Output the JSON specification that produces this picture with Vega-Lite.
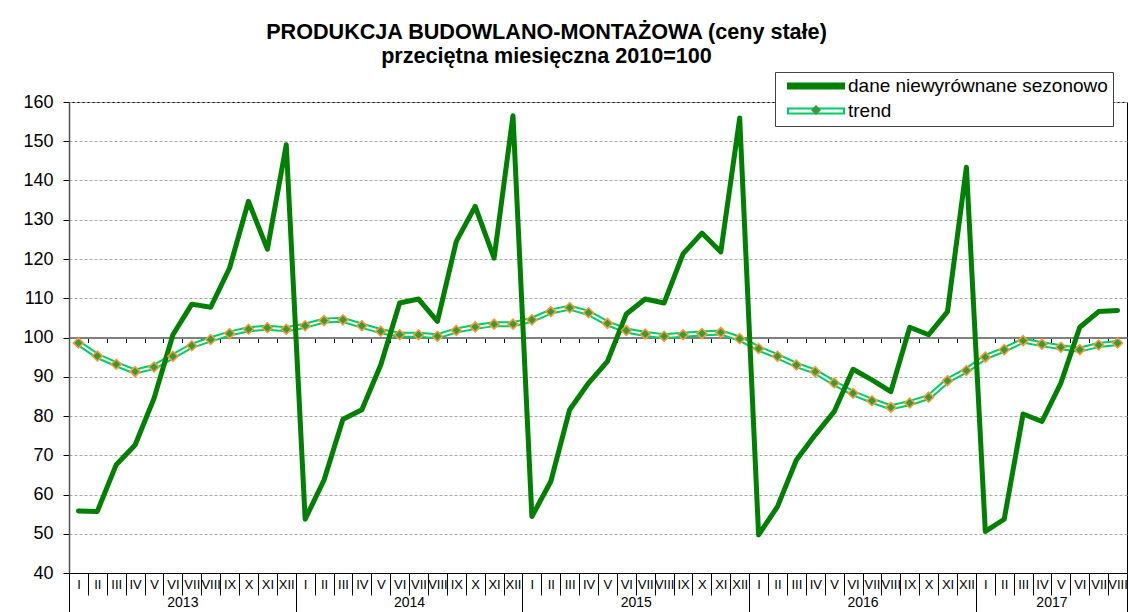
{
  "$schema": "https://vega.github.io/schema/vega-lite/v6.json",
  "width": 1058,
  "height": 471,
  "autosize": {"type": "none"},
  "padding": {"left": 69, "top": 102, "right": 3, "bottom": 39},
  "background": "#ffffff",
  "title": {
    "text": ["PRODUKCJA BUDOWLANO-MONTAŻOWA (ceny stałe)", "przeciętna miesięczna 2010=100"],
    "font": "Liberation Sans",
    "fontSize": 21.6,
    "fontWeight": "bold",
    "color": "#000000",
    "anchor": "middle",
    "dx": -51.5,
    "offset": 4,
    "lineHeight": 24
  },
  "data": {
    "values": [
      {"t": 0, "s": "dane", "v": 55.8}, {"t": 1, "s": "dane", "v": 55.7}, {"t": 2, "s": "dane", "v": 67.6}, {"t": 3, "s": "dane", "v": 72.6},
      {"t": 4, "s": "dane", "v": 84.5}, {"t": 5, "s": "dane", "v": 100.7}, {"t": 6, "s": "dane", "v": 108.5}, {"t": 7, "s": "dane", "v": 107.7},
      {"t": 8, "s": "dane", "v": 117.7}, {"t": 9, "s": "dane", "v": 134.7}, {"t": 10, "s": "dane", "v": 122.5}, {"t": 11, "s": "dane", "v": 149.1},
      {"t": 12, "s": "dane", "v": 53.7}, {"t": 13, "s": "dane", "v": 63.7}, {"t": 14, "s": "dane", "v": 79.2}, {"t": 15, "s": "dane", "v": 81.6},
      {"t": 16, "s": "dane", "v": 93.0}, {"t": 17, "s": "dane", "v": 108.8}, {"t": 18, "s": "dane", "v": 109.8}, {"t": 19, "s": "dane", "v": 104.1},
      {"t": 20, "s": "dane", "v": 124.5}, {"t": 21, "s": "dane", "v": 133.4}, {"t": 22, "s": "dane", "v": 120.2}, {"t": 23, "s": "dane", "v": 156.5},
      {"t": 24, "s": "dane", "v": 54.4}, {"t": 25, "s": "dane", "v": 63.3}, {"t": 26, "s": "dane", "v": 81.6}, {"t": 27, "s": "dane", "v": 88.4},
      {"t": 28, "s": "dane", "v": 93.9}, {"t": 29, "s": "dane", "v": 106.0}, {"t": 30, "s": "dane", "v": 109.8}, {"t": 31, "s": "dane", "v": 108.8},
      {"t": 32, "s": "dane", "v": 121.3}, {"t": 33, "s": "dane", "v": 126.6}, {"t": 34, "s": "dane", "v": 121.8}, {"t": 35, "s": "dane", "v": 155.9},
      {"t": 36, "s": "dane", "v": 49.7}, {"t": 37, "s": "dane", "v": 56.9}, {"t": 38, "s": "dane", "v": 68.8}, {"t": 39, "s": "dane", "v": 75.2},
      {"t": 40, "s": "dane", "v": 81.1}, {"t": 41, "s": "dane", "v": 91.9}, {"t": 42, "s": "dane", "v": 89.2}, {"t": 43, "s": "dane", "v": 86.2},
      {"t": 44, "s": "dane", "v": 102.6}, {"t": 45, "s": "dane", "v": 100.7}, {"t": 46, "s": "dane", "v": 106.6}, {"t": 47, "s": "dane", "v": 143.4},
      {"t": 48, "s": "dane", "v": 50.6}, {"t": 49, "s": "dane", "v": 53.7}, {"t": 50, "s": "dane", "v": 80.5}, {"t": 51, "s": "dane", "v": 78.6},
      {"t": 52, "s": "dane", "v": 88.4}, {"t": 53, "s": "dane", "v": 102.6}, {"t": 54, "s": "dane", "v": 106.6}, {"t": 55, "s": "dane", "v": 106.9},
      {"t": 0, "s": "trend", "v": 98.6}, {"t": 1, "s": "trend", "v": 95.3}, {"t": 2, "s": "trend", "v": 93.2}, {"t": 3, "s": "trend", "v": 91.3},
      {"t": 4, "s": "trend", "v": 92.5}, {"t": 5, "s": "trend", "v": 95.2}, {"t": 6, "s": "trend", "v": 97.9}, {"t": 7, "s": "trend", "v": 99.5},
      {"t": 8, "s": "trend", "v": 101.0}, {"t": 9, "s": "trend", "v": 102.1}, {"t": 10, "s": "trend", "v": 102.5}, {"t": 11, "s": "trend", "v": 102.1},
      {"t": 12, "s": "trend", "v": 103.0}, {"t": 13, "s": "trend", "v": 104.3}, {"t": 14, "s": "trend", "v": 104.5}, {"t": 15, "s": "trend", "v": 103.0},
      {"t": 16, "s": "trend", "v": 101.6}, {"t": 17, "s": "trend", "v": 100.7}, {"t": 18, "s": "trend", "v": 100.7}, {"t": 19, "s": "trend", "v": 100.3},
      {"t": 20, "s": "trend", "v": 101.8}, {"t": 21, "s": "trend", "v": 102.7}, {"t": 22, "s": "trend", "v": 103.4}, {"t": 23, "s": "trend", "v": 103.4},
      {"t": 24, "s": "trend", "v": 104.5}, {"t": 25, "s": "trend", "v": 106.6}, {"t": 26, "s": "trend", "v": 107.6}, {"t": 27, "s": "trend", "v": 106.3},
      {"t": 28, "s": "trend", "v": 103.6}, {"t": 29, "s": "trend", "v": 101.8}, {"t": 30, "s": "trend", "v": 100.9}, {"t": 31, "s": "trend", "v": 100.3},
      {"t": 32, "s": "trend", "v": 100.7}, {"t": 33, "s": "trend", "v": 101.0}, {"t": 34, "s": "trend", "v": 101.3}, {"t": 35, "s": "trend", "v": 99.7},
      {"t": 36, "s": "trend", "v": 97.2}, {"t": 37, "s": "trend", "v": 95.2}, {"t": 38, "s": "trend", "v": 93.0}, {"t": 39, "s": "trend", "v": 91.3},
      {"t": 40, "s": "trend", "v": 88.4}, {"t": 41, "s": "trend", "v": 85.8}, {"t": 42, "s": "trend", "v": 83.9}, {"t": 43, "s": "trend", "v": 82.2},
      {"t": 44, "s": "trend", "v": 83.3}, {"t": 45, "s": "trend", "v": 84.8}, {"t": 46, "s": "trend", "v": 89.0}, {"t": 47, "s": "trend", "v": 91.6},
      {"t": 48, "s": "trend", "v": 95.0}, {"t": 49, "s": "trend", "v": 96.9}, {"t": 50, "s": "trend", "v": 99.2}, {"t": 51, "s": "trend", "v": 98.3},
      {"t": 52, "s": "trend", "v": 97.5}, {"t": 53, "s": "trend", "v": 96.9}, {"t": 54, "s": "trend", "v": 98.1}, {"t": 55, "s": "trend", "v": 98.6}
    ]
  },
  "encoding": {
    "y": {
      "field": "v",
      "type": "quantitative",
      "scale": {"domain": [40, 160], "nice": false, "zero": false},
      "axis": {
        "title": null,
        "values": [40, 50, 60, 70, 80, 90, 100, 110, 120, 130, 140, 150, 160],
        "grid": true,
        "gridColor": "#A8A8A8",
        "gridDash": [3, 2],
        "gridWidth": 1,
        "domain": true,
        "domainColor": "#505050",
        "domainWidth": 1.5,
        "ticks": true,
        "tickSize": 6,
        "tickColor": "#000000",
        "labelFont": "Liberation Sans",
        "labelFontSize": 18,
        "labelColor": "#000000",
        "labelPadding": 10
      }
    }
  },
  "layer": [
    {
      "transform": [{"filter": "datum.s == 'trend'"}],
      "mark": {"type": "line", "stroke": "#00CC66", "strokeWidth": 6, "strokeJoin": "round", "strokeCap": "round"},
      "encoding": {
        "x": {
          "field": "t",
          "type": "quantitative",
          "scale": {"domain": [-0.5, 55.5], "nice": false, "zero": false},
          "axis": {
            "orient": "bottom",
            "offset": -235.5,
            "title": null,
            "values": [-0.5, 0.5, 1.5, 2.5, 3.5, 4.5, 5.5, 6.5, 7.5, 8.5, 9.5, 10.5, 11.5, 12.5, 13.5, 14.5, 15.5, 16.5, 17.5, 18.5, 19.5, 20.5, 21.5, 22.5, 23.5, 24.5, 25.5, 26.5, 27.5, 28.5, 29.5, 30.5, 31.5, 32.5, 33.5, 34.5, 35.5, 36.5, 37.5, 38.5, 39.5, 40.5, 41.5, 42.5, 43.5, 44.5, 45.5, 46.5, 47.5, 48.5, 49.5, 50.5, 51.5, 52.5, 53.5, 54.5, 55.5],
            "labels": false,
            "grid": false,
            "domain": true,
            "domainColor": "#808080",
            "domainWidth": 2,
            "ticks": true,
            "tickSize": 5,
            "tickColor": "#000000",
            "tickWidth": 1
          }
        }
      }
    },
    {
      "transform": [{"filter": "datum.s == 'trend'"}],
      "mark": {"type": "line", "stroke": "#ffffff", "strokeWidth": 2, "strokeJoin": "round", "strokeCap": "round"},
      "encoding": {
        "x": {
          "field": "t",
          "type": "quantitative",
          "scale": {"domain": [-0.5, 55.5], "nice": false, "zero": false},
          "axis": {
            "orient": "bottom",
            "title": null,
            "values": [-0.5, 0.5, 1.5, 2.5, 3.5, 4.5, 5.5, 6.5, 7.5, 8.5, 9.5, 10.5, 11.5, 12.5, 13.5, 14.5, 15.5, 16.5, 17.5, 18.5, 19.5, 20.5, 21.5, 22.5, 23.5, 24.5, 25.5, 26.5, 27.5, 28.5, 29.5, 30.5, 31.5, 32.5, 33.5, 34.5, 35.5, 36.5, 37.5, 38.5, 39.5, 40.5, 41.5, 42.5, 43.5, 44.5, 45.5, 46.5, 47.5, 48.5, 49.5, 50.5, 51.5, 52.5, 53.5, 54.5, 55.5],
            "labels": false,
            "grid": false,
            "domain": true,
            "domainColor": "#000000",
            "domainWidth": 1,
            "ticks": true,
            "tickSize": {"condition": {"test": "datum.value == -0.5 || datum.value == 11.5 || datum.value == 23.5 || datum.value == 35.5 || datum.value == 47.5 || datum.value == 55.5", "value": 45}, "value": 22},
            "tickColor": "#000000",
            "tickWidth": 1
          }
        }
      }
    },
    {
      "transform": [{"filter": "datum.s == 'dane'"}],
      "mark": {"type": "line", "strokeWidth": 5, "strokeJoin": "round", "strokeCap": "round"},
      "encoding": {
        "x": {
          "field": "t",
          "type": "quantitative",
          "scale": {"domain": [-0.5, 55.5], "nice": false, "zero": false},
          "axis": {
            "orient": "bottom",
            "title": null,
            "values": [0, 1, 2, 3, 4, 5, 6, 7, 8, 9, 10, 11, 12, 13, 14, 15, 16, 17, 18, 19, 20, 21, 22, 23, 24, 25, 26, 27, 28, 29, 30, 31, 32, 33, 34, 35, 36, 37, 38, 39, 40, 41, 42, 43, 44, 45, 46, 47, 48, 49, 50, 51, 52, 53, 54, 55],
            "labelExpr": "['I','II','III','IV','V','VI','VII','VIII','IX','X','XI','XII'][datum.value % 12]",
            "ticks": false,
            "domain": false,
            "grid": false,
            "labelPadding": 5,
            "labelFont": "Liberation Sans",
            "labelFontSize": 13,
            "labelColor": "#000000",
            "labelOverlap": false,
            "labelBound": false,
            "labelFlush": false
          }
        },
        "color": {
          "field": "s",
          "type": "nominal",
          "scale": {"domain": ["dane", "trend"], "range": ["#008000", "#00CC66"]},
          "legend": {
            "orient": "none",
            "legendX": 706,
            "legendY": -30,
            "title": null,
            "padding": 5,
            "fillColor": "#ffffff",
            "strokeColor": "#404040",
            "rowPadding": 6,
            "clipHeight": 18,
            "labelFont": "Liberation Sans",
            "labelFontSize": 19,
            "labelColor": "#000000",
            "labelLimit": 400,
            "labelExpr": "datum.value == 'dane' ? 'dane niewyrównane sezonowo' : 'trend'",
            "symbolType": "M-1,-0.09H1V0.09H-1Z",
            "symbolSize": 3136,
            "symbolStrokeWidth": 2,
            "symbolOffset": 7,
            "labelOffset": 3,
            "zindex": 1,
            "encode": {
              "symbols": {
                "update": {
                  "fill": {"signal": "datum.value == 'trend' ? '#ffffff' : '#008000'"},
                  "stroke": {"signal": "datum.value == 'trend' ? '#00CC66' : '#008000'"},
                  "fillOpacity": {"value": 1},
                  "strokeOpacity": {"value": 1},
                  "opacity": {"value": 1}
                }
              }
            }
          }
        }
      }
    },
    {
      "transform": [{"filter": "datum.s == 'trend'"}],
      "mark": {"type": "point", "filled": true, "fill": "#3A9A3A", "stroke": "#FF9933", "strokeWidth": 1.5, "size": 100, "opacity": 1},
      "encoding": {
        "x": {
          "field": "t",
          "type": "quantitative",
          "scale": {"domain": [-0.5, 55.5], "nice": false, "zero": false},
          "axis": {
            "orient": "bottom",
            "title": null,
            "values": [5.5, 17.5, 29.5, 41.5, 51.5],
            "labelExpr": "datum.value < 12 ? '2013' : datum.value < 24 ? '2014' : datum.value < 36 ? '2015' : datum.value < 48 ? '2016' : '2017'",
            "ticks": false,
            "domain": false,
            "grid": false,
            "labelPadding": 22,
            "labelFont": "Liberation Sans",
            "labelFontSize": 14,
            "labelColor": "#000000",
            "labelOverlap": false,
            "labelBound": false,
            "labelFlush": false
          }
        },
        "shape": {
          "field": "s",
          "type": "nominal",
          "scale": {"domain": ["trend"], "range": ["diamond"]},
          "legend": {
            "orient": "none",
            "legendX": 741,
            "legendY": 3,
            "title": null,
            "padding": 0,
            "labelExpr": "''",
            "labelFontSize": 1,
            "clipHeight": 10,
            "symbolSize": 100,
            "symbolFillColor": "#3A9A3A",
            "symbolStrokeColor": "#FF9933",
            "symbolStrokeWidth": 1.5,
            "zindex": 2,
            "encode": {
              "symbols": {
                "update": {
                  "fill": {"value": "#3A9A3A"},
                  "stroke": {"value": "#FF9933"},
                  "fillOpacity": {"value": 1},
                  "opacity": {"value": 1}
                }
              }
            }
          }
        }
      }
    }
  ],
  "resolve": {"axis": {"x": "independent"}},
  "config": {
    "view": {"stroke": "#000000", "strokeWidth": 1},
    "font": "Liberation Sans"
  }
}
